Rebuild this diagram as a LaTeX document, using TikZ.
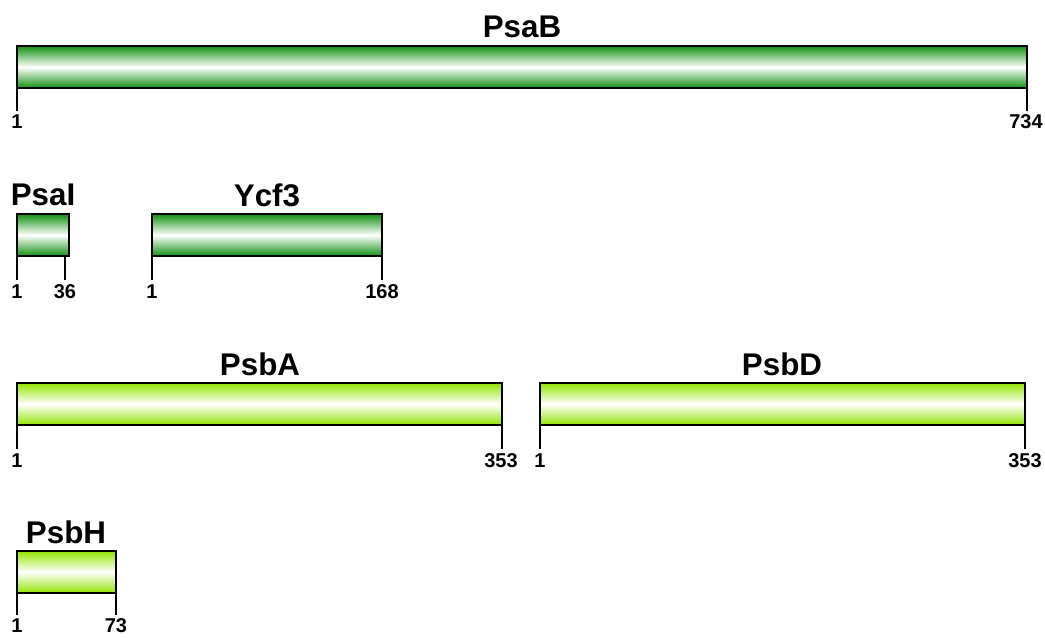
\documentclass[tikz,border=0pt]{standalone}
\usepackage{fontspec}
\setmainfont{Liberation Sans}
\usetikzlibrary{fit}
\definecolor{dg}{RGB}{18,145,18}
\definecolor{lg}{RGB}{145,228,0}
\begin{document}
\begin{tikzpicture}[x=0.75pt,y=-0.75pt,
  bar/.style={draw=black, line width=1.1pt, inner sep=0pt, top color=#1, bottom color=#1, middle color=white},
  title/.style={font=\bfseries\fontsize{23.5}{26}\selectfont, inner sep=0pt},
  num/.style={font=\bfseries\fontsize{15}{17}\selectfont, inner sep=0pt},
  tick/.style={draw=black, line width=1pt}]
\useasboundingbox (0,0) rectangle (1045,638);
% row 1
\node[bar=dg, fit={(17,46) (1027,88)}] (psab) {};
\node[title] (tpsab) at (522,27) {PsaB};
\coordinate (psabt0) at (17,88);
\coordinate (psabt3) at (1027,88);
\coordinate (psabt1) at (17,111);
\coordinate (psabt2) at (1027,111);
\draw[tick] (psabt0) -- (psabt1);
\draw[tick] (psabt3) -- (psabt2);
\node[num] (n1) at (17,122) {1};
\node[num] (n2) at (1026,122) {734};
% row 2
\node[bar=dg, fit={(17,214) (69,256)}] (psai) {};
\node[title] (tpsai) at (43,195) {PsaI};
\coordinate (psaitA) at (17,256);
\coordinate (psait0) at (65,256);
\coordinate (psait1) at (17,280);
\coordinate (psait2) at (65,280);
\draw[tick] (psaitA) -- (psait1);
\draw[tick] (psait0) -- (psait2);
\node[num] (n3) at (17,292) {1};
\node[num] (n4) at (65,292) {36};
\node[bar=dg, fit={(152,214) (382,256)}] (ycf) {};
\node[title] (tycf) at (267,195) {Ycf3};
\coordinate (ycft0) at (152,256);
\coordinate (ycft3) at (382,256);
\coordinate (ycft1) at (152,280);
\coordinate (ycft2) at (382,280);
\draw[tick] (ycft0) -- (ycft1);
\draw[tick] (ycft3) -- (ycft2);
\node[num] (n5) at (152,292) {1};
\node[num] (n6) at (382,292) {168};
% row 3
\node[bar=lg, fit={(17,383) (502,425)}] (psba) {};
\node[title] (tpsba) at (260,364) {PsbA};
\coordinate (psbat0) at (17,425);
\coordinate (psbat3) at (502,425);
\coordinate (psbat1) at (17,449);
\coordinate (psbat2) at (502,449);
\draw[tick] (psbat0) -- (psbat1);
\draw[tick] (psbat3) -- (psbat2);
\node[num] (n7) at (17,461) {1};
\node[num] (n8) at (501,461) {353};
\node[bar=lg, fit={(540,383) (1025,425)}] (psbd) {};
\node[title] (tpsbd) at (782,364) {PsbD};
\coordinate (psbdt0) at (540,425);
\coordinate (psbdt3) at (1025,425);
\coordinate (psbdt1) at (540,449);
\coordinate (psbdt2) at (1025,449);
\draw[tick] (psbdt0) -- (psbdt1);
\draw[tick] (psbdt3) -- (psbdt2);
\node[num] (n9) at (540,461) {1};
\node[num] (n10) at (1025,461) {353};
% row 4
\node[bar=lg, fit={(17,551) (116,593)}] (psbh) {};
\node[title] (tpsbh) at (66,532) {PsbH};
\coordinate (psbht0) at (17,593);
\coordinate (psbht3) at (116,593);
\coordinate (psbht1) at (17,615);
\coordinate (psbht2) at (116,615);
\draw[tick] (psbht0) -- (psbht1);
\draw[tick] (psbht3) -- (psbht2);
\node[num] (n11) at (17,626) {1};
\node[num] (n12) at (116,626) {73};
\end{tikzpicture}
\end{document}
